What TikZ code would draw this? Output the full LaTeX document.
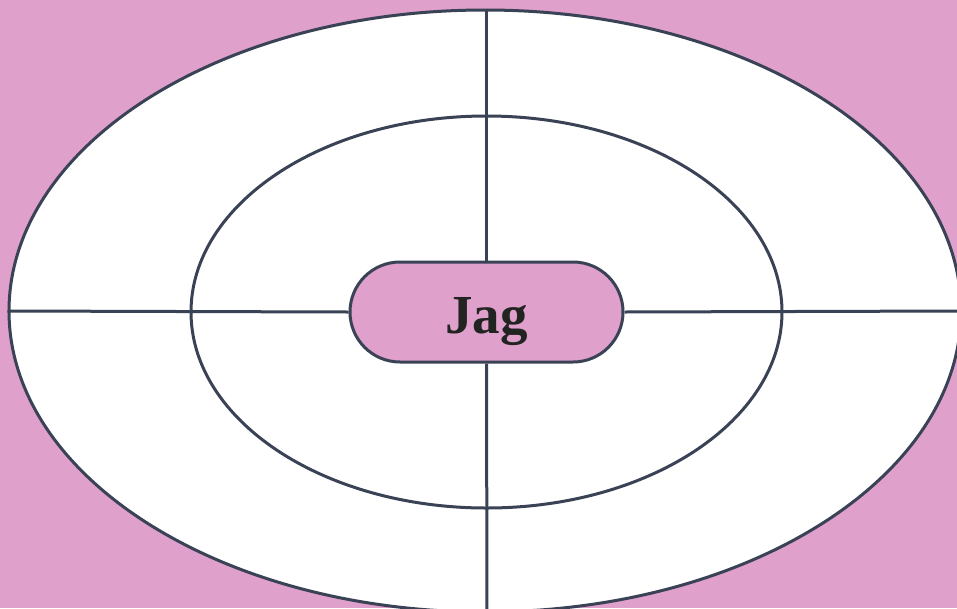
\documentclass[tikz,border=0pt]{standalone}
\usepackage{fontspec}
\setmainfont{Liberation Serif}
\usetikzlibrary{shapes.geometric,shapes.misc}
\definecolor{bgpink}{RGB}{223,160,203}
\definecolor{slate}{RGB}{58,66,86}
\definecolor{inkdark}{RGB}{34,36,34}

\begin{document}
\begin{tikzpicture}[x=1pt,y=-1pt,
	ring/.style={ellipse, draw=slate, fill=white, line width=3pt, inner sep=0pt},
	spoke/.style={draw=slate, line width=3pt}]
	\fill[bgpink] (0,0) rectangle (957,608);
	\useasboundingbox (0,0) rectangle (957,608);
	\node[ring, minimum width=952pt, minimum height=602pt] (outer) at (485,311) {};
	\node[ring, minimum width=591pt, minimum height=392pt] (inner) at (486.5,312) {};
	\node[rounded rectangle, draw=slate, fill=bgpink, line width=3pt,
		minimum width=273pt, minimum height=100pt, inner sep=0pt,
		text=inkdark, font=\fontsize{55}{60}\selectfont\bfseries] (pill) at (486.5,312) {\raisebox{-21pt}[0pt][0pt]{Jag}};
	% cross lines from the pill out to the edge
	\coordinate (rightend) at (962,311);
	\coordinate (bottomend) at (487,620);
	\draw[spoke] (outer.north -| pill.north) -- (pill.north);
	\draw[spoke] (pill.south) -- (bottomend);
	\draw[spoke] (outer.west) -- (pill.west);
	\draw[spoke] (pill.east) -- (rightend);
\end{tikzpicture}
\end{document}
